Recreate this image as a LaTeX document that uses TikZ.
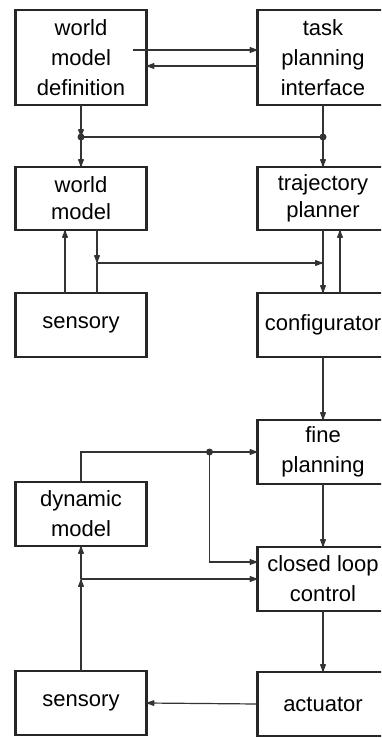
\documentclass[tikz,border=0pt]{standalone}
\usepackage{fontspec}
\setmainfont{Liberation Sans}
\usetikzlibrary{arrows.meta,positioning,calc}

\begin{document}
\begin{tikzpicture}[
    x=1pt, y=-1pt,
    font=\fontsize{22}{30}\selectfont,
    box/.style={draw=black!85, line width=2.6pt, align=center, inner sep=0pt,
                outer sep=0pt, minimum width=131pt, minimum height=64pt},
    tall/.style={box, minimum height=95pt},
    fl/.style={-{Latex[round,length=10pt,width=6.5pt]}, draw=black!80, line width=1.2pt},
    ln/.style={draw=black!80, line width=1.2pt},
    dot/.style={circle, fill=black!80, inner sep=0pt, minimum size=7pt}
  ]
  \useasboundingbox (0,0) rectangle (381,738);
  \clip (0,0) rectangle (381,738);
  % upper half
  \node[tall] (wmd) at (81,57.5) {world\\model\\definition};
  \node[tall, right=111pt of wmd] (tpi) {task\\planning\\interface};
  \node[box, minimum height=63pt, below=62pt of wmd] (wm) {world\\[-3pt]model};
  \node[box, minimum height=63pt, right=111pt of wm] (tp) {trajectory\\[-3pt]planner};
  \node[box, below=63pt of wm] (sen) {sensory};
  \node[box, right=111pt of sen] (cfg) {configurator};
  % lower half
  \node[box, below=63pt of cfg] (fine) {fine\\planning};
  \node[box, below=63pt of fine] (clc) {closed loop\\control};
  \node[box, below=61pt of clc] (act) {actuator};
  \node[box, below=125pt of sen] (dyn) {dynamic\\model};
  \node[box, below=125pt of dyn] (sen2) {sensory};

  \draw[fl] ($(wmd.east)+(-14,-7.5)$) -- ($(tpi.west)+(0,-7.5)$);
  \draw[fl] ($(tpi.west)+(0,8.5)$) -- ($(wmd.east)+(0,8.5)$);

  \coordinate (jl) at ($(wmd.south)+(0,32)$);
  \coordinate (jr) at ($(tpi.south)+(0,32)$);
  \draw[fl] (wmd) -- (jl);
  \draw[fl] (jl) -- (wm);
  \draw[ln] (tpi) -- (jr);
  \draw[fl] (jr) -- (tp);
  \draw[ln] (jl) -- (jr);
  \node[dot] (djl) at (jl) {};
  \node[dot] (djr) at (jr) {};

  \coordinate (j2l) at ($([xshift=16pt]wm.south)+(0,33)$);
  \draw[fl] ([xshift=-16pt]sen.north) -- ([xshift=-16pt]wm.south);
  \draw[fl] ([xshift=16pt]wm.south) -- (j2l);
  \draw[ln] (j2l) -- ([xshift=16pt]sen.north);
  \draw[fl] (j2l) -- (j2l -| tp.south);
  \draw[fl] (tp) -- (cfg);
  \draw[fl] ([xshift=17pt]cfg.north) -- ([xshift=17pt]tp.south);

  \draw[fl] (cfg) -- (fine);
  \coordinate (j3) at ($(fine.west)+(-48,0)$);
  \draw[fl] (dyn.north) |- (fine.west);
  \draw[fl] (j3) |- ($(clc.west)+(0,-17)$);
  \node[dot] (dj3) at (j3) {};
  \draw[fl] (fine) -- (clc);

  \coordinate (j4) at ($(dyn.south)+(0,33)$);
  \draw[fl] (sen2) -- (j4);
  \draw[fl] (j4) -- (dyn);
  \draw[fl] (j4) -- (j4 -| clc.west);
  \draw[fl] (clc) -- (act);
  \draw[fl] (act.west) -- (sen2.east);
\end{tikzpicture}
\end{document}
